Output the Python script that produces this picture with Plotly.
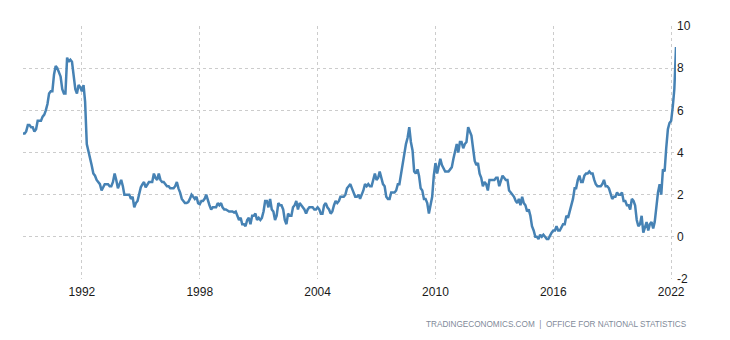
import pandas as pd
import plotly.graph_objects as go

start_month = "1989-01-01"

cpi_1989_1994 = [
    4.9, 4.9, 5.0, 5.3, 5.3, 5.2, 5.2, 5.0, 5.1, 5.5, 5.5, 5.5,
    5.7, 5.8, 6.0, 6.3, 6.8, 6.9, 6.9, 7.7, 8.1, 8.0, 7.8, 7.6,
    7.0, 6.8, 6.8, 8.5, 8.3, 8.4, 8.3, 7.7, 7.0, 6.8, 7.2, 7.1,
    6.9, 7.2, 6.4, 4.4, 4.1, 3.7, 3.4, 3.0, 2.9, 2.7, 2.6, 2.5,
    2.2, 2.4, 2.5, 2.5, 2.5, 2.4, 2.4, 2.6, 3.0, 2.7, 2.3, 2.5,
    2.7, 2.4, 2.0, 2.0, 2.0, 2.0, 1.8, 1.9, 1.4, 1.6, 1.7, 2.0,
]
cpi_1995_2000 = [
    2.35, 2.5, 2.6, 2.35, 2.5, 2.6, 2.6, 2.6, 3.0, 2.8, 2.7, 3.0,
    2.7, 2.6, 2.6, 2.5, 2.4, 2.4, 2.3, 2.3, 2.3, 2.4, 2.6, 2.3,
    2.1, 1.8, 1.7, 1.6, 1.6, 1.65, 1.8, 2.0, 1.9, 1.8, 1.9, 1.6,
    1.55, 1.7, 1.7, 1.8, 2.0, 1.7, 1.5, 1.3, 1.4, 1.4, 1.4, 1.6,
    1.5, 1.6, 1.4, 1.3, 1.3, 1.25, 1.2, 1.2, 1.2, 1.15, 1.2, 1.0,
    0.8, 0.9, 0.6, 0.6, 0.5, 0.8, 0.9, 0.6, 1.0, 1.0, 1.1, 0.8,
]
cpi_2001_2007 = [
    0.9, 0.8, 0.9, 1.2, 1.7, 1.7, 1.4, 1.8, 1.3, 1.2, 0.8, 1.0,
    1.6, 1.5, 1.5, 1.3, 0.8, 0.6, 1.1, 1.0, 1.0, 1.4, 1.5, 1.7,
    1.3, 1.6, 1.5, 1.4, 1.3, 1.1, 1.3, 1.4, 1.4, 1.4, 1.3, 1.3,
    1.4, 1.3, 1.1, 1.1, 1.5, 1.6, 1.4, 1.3, 1.1, 1.2, 1.5, 1.7,
    1.6, 1.7, 1.9, 1.9, 1.9, 2.0, 2.3, 2.4, 2.5, 2.3, 2.1, 1.9,
    1.9, 2.0, 1.8, 2.0, 2.2, 2.5, 2.4, 2.5, 2.4, 2.4, 2.7, 3.0,
    2.7, 2.8, 3.1, 2.8, 2.5, 2.4, 1.9, 1.8, 1.8, 2.1, 2.1, 2.1,
]
cpi_2008_2014 = [
    2.2, 2.5, 2.5, 3.0, 3.3, 3.8, 4.4, 4.7, 5.2, 4.5, 4.1, 3.1,
    3.0, 3.2, 2.9, 2.3, 2.2, 1.8, 1.8, 1.6, 1.1, 1.5, 1.9, 2.9,
    3.5, 3.0, 3.4, 3.7, 3.4, 3.2, 3.1, 3.1, 3.1, 3.2, 3.3, 3.7,
    4.0, 4.4, 4.0, 4.5, 4.5, 4.2, 4.4, 4.5, 5.2, 5.0, 4.8, 4.2,
    3.6, 3.4, 3.5, 3.0, 2.8, 2.4, 2.6, 2.5, 2.2, 2.7, 2.7, 2.7,
    2.7, 2.8, 2.8, 2.4, 2.7, 2.9, 2.8, 2.7, 2.7, 2.2, 2.1, 2.0,
    1.9, 1.7, 1.6, 1.8, 1.5, 1.9, 1.6, 1.5, 1.2, 1.3, 1.0, 0.5,
]
cpi_2015_2022 = [
    0.3, 0.0, 0.0, -0.1, 0.1, 0.0, 0.1, 0.0, -0.1, -0.1, 0.1, 0.2,
    0.3, 0.3, 0.5, 0.3, 0.3, 0.5, 0.6, 0.6, 1.0, 0.9, 1.2, 1.6,
    1.8, 2.3, 2.3, 2.7, 2.9, 2.6, 2.6, 2.9, 3.0, 3.0, 3.1, 3.0,
    3.0, 2.7, 2.5, 2.4, 2.4, 2.4, 2.5, 2.7, 2.4, 2.4, 2.3, 2.1,
    1.8, 1.9, 1.9, 2.1, 2.0, 2.0, 2.1, 1.7, 1.7, 1.5, 1.5, 1.3,
    1.8, 1.7, 1.5, 0.8, 0.5, 0.6, 1.0, 0.2, 0.5, 0.7, 0.3, 0.6,
    0.7, 0.4, 0.7, 1.5, 2.1, 2.5, 2.0, 3.2, 3.1, 4.2, 5.1, 5.4,
    5.5, 6.2, 7.0, 9.0,
]

values = cpi_1989_1994 + cpi_1995_2000 + cpi_2001_2007 + cpi_2008_2014 + cpi_2015_2022
dates = pd.date_range(start_month, periods=len(values), freq="MS")

x_tick_labels = ["1992", "1998", "2004", "2010", "2016", "2022"]
y_tick_values = [-2, 0, 2, 4, 6, 8, 10]

fig = go.Figure()
fig.add_trace(go.Scatter(
    x=dates, y=values, mode="lines",
    line=dict(color="#4682b4", width=2.5),
    hoverinfo="skip",
))

grid = dict(showgrid=True, gridcolor="#cccccc", gridwidth=1, griddash="dot",
            zeroline=False, showline=False, ticks="")

fig.update_layout(
    width=730, height=340,
    margin=dict(l=15, r=62, t=11, b=69),
    paper_bgcolor="white", plot_bgcolor="white",
    showlegend=False,
    font=dict(family="Liberation Sans, Arial, sans-serif", size=12, color="#1a1a1a"),
    xaxis=dict(
        range=[dates[0], dates[-1]],
        tickvals=[f"{y}-01-01" for y in x_tick_labels],
        ticktext=x_tick_labels,
        ticklabelstandoff=4,
        **grid,
    ),
    yaxis=dict(
        range=[-2, 10], side="right",
        tickvals=y_tick_values,
        ticktext=[str(v) for v in y_tick_values],
        **grid,
    ),
)

fig.add_annotation(
    text="TRADINGECONOMICS.COM  |  OFFICE FOR NATIONAL STATISTICS",
    xref="paper", yref="paper", x=1.02, y=-0.18,
    xanchor="right", yanchor="middle", showarrow=False,
    font=dict(size=8.2, color="#7f8a99", family="Liberation Sans, Arial, sans-serif"),
)

fig.write_html("out.html")
